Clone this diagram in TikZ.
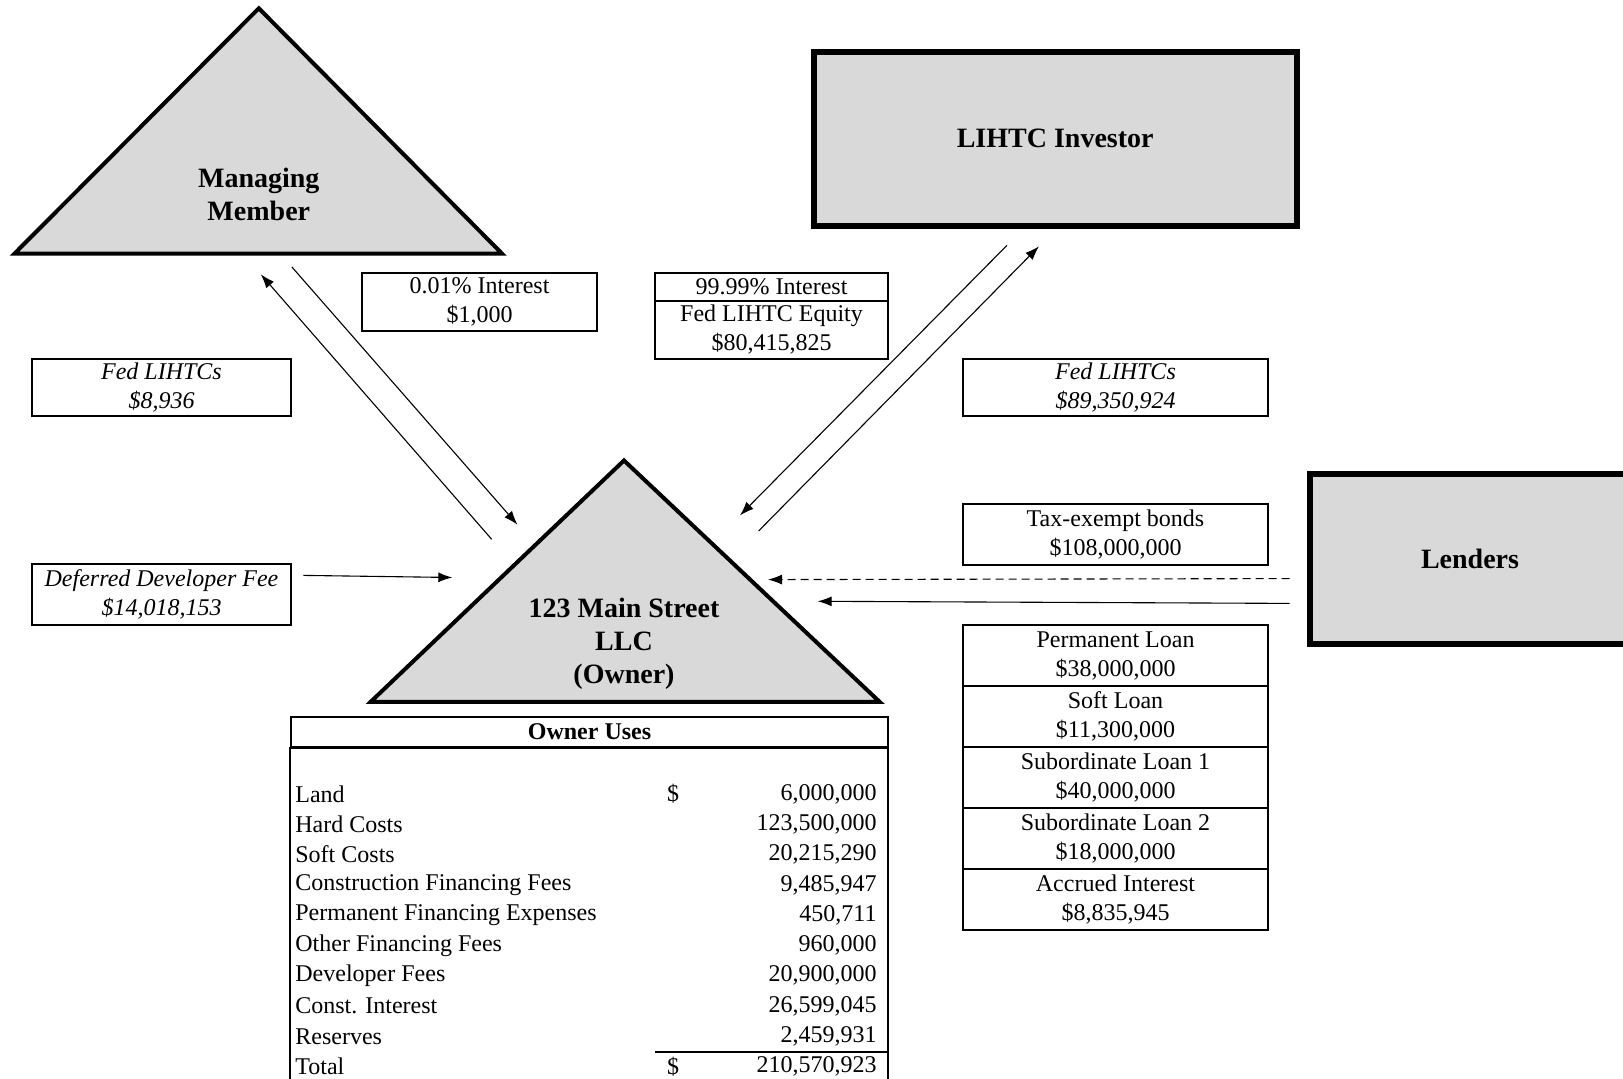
\documentclass[tikz,border=0pt]{standalone}
\usepackage{fontspec}
\setmainfont{Liberation Serif}
\usetikzlibrary{arrows.meta}

\begin{document}
\begin{tikzpicture}[x=0.5pt,y=-0.5pt,
    every node/.style={font=\fontsize{12pt}{14.5pt}\selectfont},
    party/.style={fill=black!15,draw,line width=2pt,line join=miter},
    title/.style={font=\fontsize{14pt}{16.5pt}\selectfont\bfseries,align=center},
    lbl/.style={rectangle,draw,line width=1pt,align=center,inner sep=0pt},
    flow/.style={-{Latex[length=7pt,width=5pt]},line width=0.55pt}]
  \useasboundingbox (0,0) rectangle (1623,1079);

    % the two triangles
    \coordinate (mmL) at (14.5,253.6);
    \coordinate (mmT) at (258.8,8.3);
    \coordinate (mmR) at (502,253.6);
    \draw[party] (mmL) -- (mmT) -- (mmR) -- cycle;
    \node[title] (MM) at (258.8,194) {Managing\\Member};

    \coordinate (owL) at (370.5,702);
    \coordinate (owT) at (624,460.5);
    \coordinate (owR) at (879.8,702);
    \draw[party] (owL) -- (owT) -- (owR) -- cycle;
    \node[title] (OWN) at (624,644) {123 Main Street\\LLC\\(Owner)};

    % investor and lenders
    \node[party,title,line width=3pt,minimum width=241.7pt,minimum height=87pt] (INV) at (1055.2,138.6) {LIHTC Investor};
    \node[party,title,line width=3pt,minimum width=160pt,minimum height=85pt] (LEN) at (1470,559) {Lenders};

    % labels on the flows
    \node[lbl,minimum width=117.5pt,minimum height=29pt] (intMM) at (479.5,302) {0.01\% Interest\\\$1,000};
    \node[lbl,minimum width=116.5pt,minimum height=14pt] (intINV) at (771.5,287) {99.99\% Interest};
    \node[lbl,minimum width=116.5pt,minimum height=29pt] (eqINV) at (771.5,330) {Fed LIHTC Equity\\\$80,415,825};
    \node[lbl,minimum width=129.5pt,minimum height=28.5pt,font=\fontsize{12pt}{14.5pt}\selectfont\itshape] (credMM) at (161.5,387.5) {Fed LIHTCs\\\$8,936};
    \node[lbl,minimum width=152.5pt,minimum height=28.5pt,font=\fontsize{12pt}{14.5pt}\selectfont\itshape] (credINV) at (1115.5,387.5) {Fed LIHTCs\\\$89,350,924};
    \node[lbl,minimum width=129.5pt,minimum height=30.5pt,font=\fontsize{12pt}{14.5pt}\selectfont\itshape] (DEV) at (161.5,594.5) {Deferred Developer Fee\\\$14,018,153};
    \node[lbl,minimum width=152.5pt,minimum height=30.5pt] (BND) at (1115.5,534.5) {Tax-exempt bonds\\\$108,000,000};

    \foreach \i/\what/\amt in {0/Permanent Loan/38{,}000{,}000,1/Soft Loan/11{,}300{,}000,
        2/Subordinate Loan 1/40{,}000{,}000,3/Subordinate Loan 2/18{,}000{,}000,4/Accrued Interest/8{,}835{,}945} {
      \node[lbl,minimum width=152.5pt,minimum height=30.5pt] (loan\i) at (1115.5,{655.5+61*\i}) {\what\\\$\amt};
    }

    % flows
    \coordinate (mmA1) at (291.9,267);   \coordinate (mmA2) at (517.5,524.7);
    \coordinate (mmB1) at (491.6,539.2); \coordinate (mmB2) at (260.8,274.3);
    \coordinate (invA1) at (1007,245.3); \coordinate (invA2) at (740,515.4);
    \coordinate (invB1) at (758.6,531);  \coordinate (invB2) at (1039,246.3);
    \coordinate (devA) at (303.3,575.4); \coordinate (devB) at (452.3,577.5);
    \coordinate (bndA) at (1289.6,578.6); \coordinate (bndB) at (768,579.6);
    \coordinate (lnA) at (1289.6,603.4); \coordinate (lnB) at (817.7,601.3);

    \draw[flow] (mmA1) -- (mmA2);
    \draw[flow] (mmB1) -- (mmB2);
    \draw[flow] (invA1) -- (invA2);
    \draw[flow] (invB1) -- (invB2);
    \draw[flow] (devA) -- (devB);
    \draw[flow,dash pattern=on 4pt off 2.5pt] (bndA) -- (bndB);
    \draw[flow] (lnA) -- (lnB);

    % owner uses table
    \node[draw,line width=1.2pt,minimum width=298.5pt,minimum height=15pt,inner sep=0pt,
      font=\fontsize{12pt}{14pt}\selectfont\bfseries] (USES) at (589.5,732) {Owner Uses};
    \draw[line width=1.2pt] (USES.south west) rectangle (888,1100);
    \foreach \i/\what/\amt in {0/Land/6{,}000{,}000,1/Hard Costs/123{,}500{,}000,2/Soft Costs/20{,}215{,}290,
        3/Construction Financing Fees/9{,}485{,}947,4/Permanent Financing Expenses/450{,}711,
        5/Other Financing Fees/960{,}000,6/Developer Fees/20{,}900{,}000,7/Const. Interest/26{,}599{,}045,
        8/Reserves/2{,}459{,}931,9/Total/210{,}570{,}923} {
      \node[anchor=west,inner sep=0pt] (use\i) at (295,{794+30.3*\i}) {\what};
      \node[anchor=east,inner sep=0pt] (amt\i) at (877,{794+30.3*\i}) {\amt};
    }
    \node[inner sep=0pt] (cur0) at (673,794) {\$};
    \node[inner sep=0pt] (cur9) at (673,1067) {\$};
    \draw[line width=1.2pt] (655,1052) -- (888,1052);
\end{tikzpicture}
\end{document}
